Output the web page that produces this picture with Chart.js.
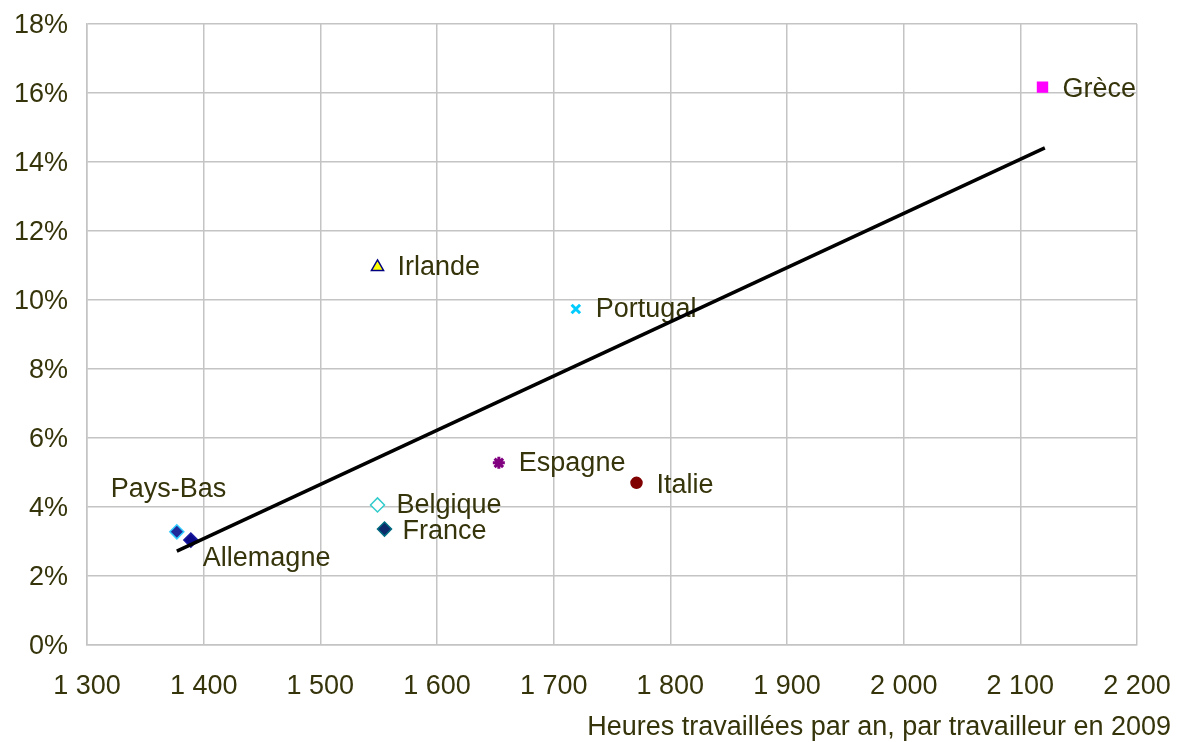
<!DOCTYPE html>
<html>
<head>
<meta charset="utf-8">
<script src="https://cdn.jsdelivr.net/npm/chart.js@4/dist/chart.umd.min.js"></script>
<style>
  body { margin: 0; background: #fff; }
  #wrap { width: 1179px; height: 742px; position: relative; }
</style>
</head>
<body>
<div id="wrap"><canvas id="chart1"></canvas></div>
<script>
// data
const countries = ['Pays-Bas', 'Allemagne', 'Belgique', 'France', 'Irlande', 'Espagne', 'Portugal', 'Italie', 'Grèce']
const hours = [1377, 1389, 1549, 1555, 1549, 1653, 1719, 1771, 2119]
const rates = [3.28, 3.04, 4.06, 3.36, 10.96, 5.28, 9.74, 4.70, 16.17]
const trendX = [1377, 2121]
const trendY = [2.72, 14.41]
const xTicks = [1300, 1400, 1500, 1600, 1700, 1800, 1900, 2000, 2100, 2200]
const yTicks = [0, 2, 4, 6, 8, 10, 12, 14, 16, 18]
const xTitle = 'Heures travaillées par an, par travailleur en 2009'

const textColor = '#35340a'
const gridColor = '#c4c4c4'
const fontFam = '"Liberation Sans", Arial, sans-serif'
const fontSize = 27

//marker style for each country
const markers = {
    'Pays-Bas': { style: 'rectRot', bg: '#1e2a9a', border: '#33ccff', r: 7 },
    'Allemagne': { style: 'rectRot', bg: '#0a0a8a', border: '#1a1aa0', r: 7 },
    'Belgique': { style: 'rectRot', bg: '#ffffff', border: '#33cccc', r: 7 },
    'France': { style: 'rectRot', bg: '#0d2a6a', border: '#006b80', r: 7 },
    'Irlande': { style: 'triangle', bg: '#ffff00', border: '#000080', r: 7 },
    'Espagne': { style: 'star', bg: '#800080', border: '#800080', r: 6 },
    'Portugal': { style: 'crossRot', bg: '#00ccff', border: '#00ccff', r: 6 },
    'Italie': { style: 'circle', bg: '#800000', border: '#800000', r: 5.5 },
    'Grèce': { style: 'rect', bg: '#ff00ff', border: '#ff00ff', r: 7 }
}

//label offsets from point (px)
const labelPos = {
    'Pays-Bas': [-66, -42],
    'Allemagne': [12, 18],
    'Belgique': [19, 1],
    'France': [18, 2],
    'Irlande': [20, 1],
    'Espagne': [20, 1],
    'Portugal': [20, 1],
    'Italie': [20, 3],
    'Grèce': [20, 2]
}

//format "1 300"
fmtHours = function(v) {
    return Math.floor(v / 1000) + ' ' + String(v % 1000).padStart(3, '0')
}

//trend line first so it is drawn on top
const datasets = [{
    label: 'trend',
    data: trendX.map((x, i) => ({ x: x, y: trendY[i] })),
    showLine: true,
    borderColor: '#000000',
    borderWidth: 3.5,
    pointRadius: 0,
    fill: false
}]

countries.forEach((c, i) => {
    const m = markers[c]
    datasets.push({
        label: c,
        data: [{ x: hours[i], y: rates[i] }],
        pointStyle: m.style,
        pointRadius: m.r,
        pointBackgroundColor: m.bg,
        pointBorderColor: m.border,
        pointBorderWidth: m.style == 'crossRot' || m.style == 'star' ? 3 : 1.5
    })
})

//country labels + axis title
const labelPlugin = {
    id: 'labels',
    beforeDatasetsDraw(chart) {
        const ctx = chart.ctx
        const xs = chart.scales.x
        const ys = chart.scales.y
        ctx.save()
        ctx.font = fontSize + 'px ' + fontFam
        ctx.fillStyle = textColor
        ctx.textAlign = 'left'
        ctx.textBaseline = 'middle'
        countries.forEach((c, i) => {
            const off = labelPos[c]
            ctx.fillText(c, xs.getPixelForValue(hours[i]) + off[0], ys.getPixelForValue(rates[i]) + off[1])
        })
        ctx.textAlign = 'right'
        ctx.fillText(xTitle, 1171, 728)
        ctx.restore()
    }
}

const config = {
    type: 'scatter',
    data: { datasets: datasets },
    options: {
        responsive: true,
        maintainAspectRatio: false,
        animation: false,
        layout: { padding: { top: 24, right: 42, left: 0, bottom: 0 } },
        plugins: {
            legend: { display: false },
            tooltip: { enabled: false }
        },
        scales: {
            x: {
                type: 'linear',
                min: 1300,
                max: 2200,
                afterFit: s => { s.height = 97; s.paddingLeft = 0; s.paddingRight = 0 },
                afterBuildTicks: s => { s.ticks = xTicks.map(v => ({ value: v })) },
                grid: { color: gridColor, lineWidth: 1.5, drawTicks: false },
                border: { color: gridColor, width: 1.5 },
                ticks: {
                    color: textColor,
                    font: { size: fontSize, family: fontFam },
                    padding: 25,
                    maxRotation: 0,
                    callback: v => fmtHours(v)
                }
            },
            y: {
                min: 0,
                max: 18,
                afterFit: s => { s.width = 87; s.paddingTop = 0; s.paddingBottom = 0 },
                afterBuildTicks: s => { s.ticks = yTicks.map(v => ({ value: v })) },
                grid: { color: gridColor, lineWidth: 1.5, drawTicks: false },
                border: { color: gridColor, width: 1.5 },
                ticks: {
                    color: textColor,
                    font: { size: fontSize, family: fontFam },
                    padding: 19,
                    labelOffset: 2,
                    callback: v => v + '%'
                }
            }
        }
    },
    plugins: [labelPlugin]
}

const Chart1 = new Chart(document.getElementById('chart1'), config)
</script>
</body>
</html>
